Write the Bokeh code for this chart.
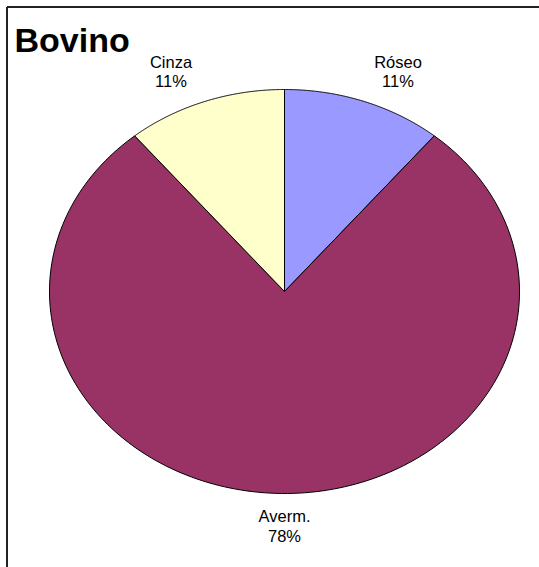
import numpy as np
from bokeh.plotting import figure
from bokeh.models import Range1d
from bokeh.core.properties import value
from bokeh.embed import file_html
from bokeh.resources import INLINE

# ---- data ----
categories = ["Róseo", "Averm.", "Cinza"]
percents = [11, 78, 11]
colors = ["#9999FF", "#993366", "#FFFFCC"]
title_text = "Bovino"

W, H = 539, 567
p = figure(width=W, height=H, output_backend="svg", toolbar_location=None,
           x_range=Range1d(0, W), y_range=Range1d(0, H), min_border=0)
p.axis.visible = False
p.grid.visible = False
p.outline_line_color = None
p.background_fill_color = "white"

def X(px):
    return px

def Y(py):
    return H - py

cx, cy = X(284), Y(291)
rx, ry = 235, 202

total = float(sum(percents))
start = 0.0
xs_list, ys_list = [], []
lab_x, lab_y, lab_txt, pct_txt = [], [], [], []
for cat, v in zip(categories, percents):
    frac = v / total
    a0 = start * 2 * np.pi
    a1 = (start + frac) * 2 * np.pi
    t = np.linspace(a0, a1, 200)
    xs = np.concatenate([[cx], cx + rx * np.sin(t), [cx]])
    ys = np.concatenate([[cy], cy + ry * np.cos(t), [cy]])
    xs_list.append(list(xs))
    ys_list.append(list(ys))
    am = (a0 + a1) / 2
    lab_x.append(cx + rx * np.sin(am) + 100 * np.sin(am))
    lab_y.append(cy + ry * np.cos(am) + 32 * np.cos(am))
    lab_txt.append(cat)
    pct_txt.append(f"{v}%")
    start += frac

p.patches(xs_list, ys_list, fill_color=colors, line_color="black", line_width=1)

font = value("Liberation Sans")
p.text(lab_x, [y + 9.5 for y in lab_y], text=lab_txt, text_font=font,
       text_font_size="16.5px", text_align="center", text_baseline="middle",
       text_color="black")
p.text(lab_x, [y - 10 for y in lab_y], text=pct_txt, text_font=font,
       text_font_size="16.5px", text_align="center", text_baseline="middle",
       text_color="black")

p.text([X(14)], [Y(39)], text=[title_text], text_font=font, text_font_size="34px",
       text_font_style="bold", text_align="left", text_baseline="middle",
       text_color="black")

# chart border (left and top edges visible)
p.segment(x0=[X(6.5), X(6.5)], y0=[Y(6.5), Y(6.5)], x1=[X(6.5), X(W)], y1=[Y(H), Y(6.5)],
          line_color="#222222", line_width=2)

open("out.html", "w").write(file_html(p, INLINE))
